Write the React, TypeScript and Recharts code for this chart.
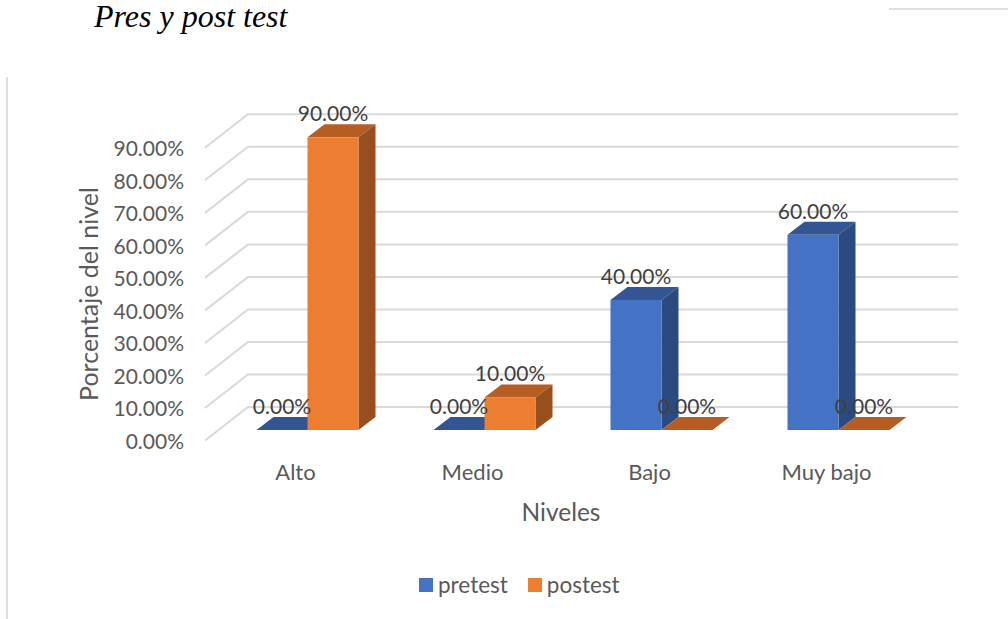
// App.tsx
import { BarChart, Bar, XAxis, YAxis, CartesianGrid, LabelList, Legend } from "recharts";

// ---- data ----
const categories = ["Alto", "Medio", "Bajo", "Muy bajo"];
const pretest = [0, 0, 40, 60];
const postest = [90, 10, 0, 0];
const yTicks = [0, 10, 20, 30, 40, 50, 60, 70, 80, 90];

const chartData = categories.map((name, i) => ({
  name,
  pretest: pretest[i],
  postest: postest[i],
}));

// ---- look ----
const FONT = "Lato, 'Open Sans', sans-serif";
const GRID = "#d9d9d9";
const AXIS_TEXT = "#595959";
const LABEL_TEXT = "#404040";
const BLUE = { front: "#4472C4", top: "#335593", side: "#2A4A80" };
const ORANGE = { front: "#ED7D31", top: "#B55D22", side: "#974F1D" };

// 3D offsets
const DEPTH_X = 17;
const DEPTH_Y = 13;
const WALL_FRONT_X = 205;
const WALL_BACK_X = 248;
const WALL_END_X = 958;
const WALL_FRONT_DY = 10.5;
const WALL_BACK_DY = -23;

const fmt = (v: number) => `${v.toFixed(2)}%`;

const GridLine = (props: any) => {
  const y = props.y1;
  return (
    <polyline
      key={props.index}
      points={`${WALL_FRONT_X},${y + WALL_FRONT_DY} ${WALL_BACK_X},${y + WALL_BACK_DY} ${WALL_END_X},${y + WALL_BACK_DY}`}
      fill="none"
      stroke={GRID}
      strokeWidth={2}
    />
  );
};

const makeBox = (c: { front: string; top: string; side: string }) => (props: any) => {
  const { x, y, width, height } = props;
  const r = x + width;
  const b = y + height;
  return (
    <g>
      <polygon
        points={`${x},${y} ${x + DEPTH_X},${y - DEPTH_Y} ${r + DEPTH_X},${y - DEPTH_Y} ${r},${y}`}
        fill={c.top}
      />
      {height > 0 && (
        <>
          <polygon
            points={`${r},${y} ${r + DEPTH_X},${y - DEPTH_Y} ${r + DEPTH_X},${b - DEPTH_Y} ${r},${b}`}
            fill={c.side}
          />
          <rect x={x} y={y} width={width} height={height} fill={c.front} />
        </>
      )}
    </g>
  );
};

const YTick = (props: any) => (
  <text
    x={184}
    y={props.y + WALL_FRONT_DY}
    textAnchor="end"
    dominantBaseline="central"
    fontSize={21}
    fontFamily={FONT}
    fill={AXIS_TEXT}
  >
    {fmt(props.payload.value)}
  </text>
);

const XTick = (props: any) => (
  <text
    x={props.x - 12}
    y={471}
    textAnchor="middle"
    dominantBaseline="central"
    fontSize={22}
    fontFamily={FONT}
    fill={AXIS_TEXT}
  >
    {props.payload.value}
  </text>
);

const LegendContent = (props: any) => (
  <div style={{ display: "flex", fontFamily: FONT, fontSize: 22.5, color: AXIS_TEXT, lineHeight: "24px" }}>
    {props.payload.map((p: any) => (
      <div key={p.value} style={{ display: "flex", alignItems: "center", marginRight: 20 }}>
        <span style={{ width: 14, height: 14, background: p.color, marginRight: 5 }} />
        {p.value}
      </div>
    ))}
  </div>
);

export default function App() {
  return (
    <div style={{ position: "absolute", left: 0, top: 0, width: 1008, height: 619, background: "#fff", overflow: "hidden" }}>
      <div
        style={{
          position: "absolute",
          left: 94,
          top: 0,
          fontFamily: "'Liberation Serif', serif",
          fontStyle: "italic",
          fontSize: 32,
          lineHeight: "32px",
          color: "#000",
          whiteSpace: "nowrap",
        }}
      >
        Pres y post test
      </div>
      <div style={{ position: "absolute", left: 889, top: 8, width: 119, height: 2, background: "#e0e0e0" }} />
      <div style={{ position: "absolute", left: 6, top: 77, width: 2, height: 542, background: "#dedede" }} />

      <BarChart
        width={1008}
        height={619}
        data={chartData}
        margin={{ top: 113.3, right: 81, bottom: 149, left: 159 }}
        barGap={0}
        barCategoryGap={37.5}
      >
        <CartesianGrid vertical={false} horizontal={GridLine} syncWithTicks />
        <XAxis
          dataKey="name"
          axisLine={false}
          tickLine={false}
          height={40}
          tick={XTick}
          interval={0}
          label={{
            content: () => (
              <text x={561} y={511} textAnchor="middle" dominantBaseline="central" fontSize={24.5} fontFamily={FONT} fill={AXIS_TEXT}>
                Niveles
              </text>
            ),
          }}
        />
        <YAxis
          domain={[0, 90]}
          ticks={yTicks}
          width={60}
          axisLine={false}
          tickLine={false}
          tick={YTick}
          interval={0}
          label={{
            content: () => (
              <text
                x={88}
                y={294}
                transform="rotate(-90 88 294)"
                textAnchor="middle"
                dominantBaseline="central"
                fontSize={25}
                fontFamily={FONT}
                fill={AXIS_TEXT}
              >
                Porcentaje del nivel
              </text>
            ),
          }}
        />
        <Legend
          verticalAlign="top"
          content={LegendContent}
          itemSorter={null}
          wrapperStyle={{ position: "absolute", left: 419, top: 573, width: 300, height: 24 }}
        />
        <Bar dataKey="pretest" fill={BLUE.front} shape={makeBox(BLUE)} isAnimationActive={false}>
          <LabelList dataKey="pretest" position="top" offset={16} formatter={fmt} fontSize={21} fontFamily={FONT} fill={LABEL_TEXT} />
        </Bar>
        <Bar dataKey="postest" fill={ORANGE.front} shape={makeBox(ORANGE)} isAnimationActive={false}>
          <LabelList dataKey="postest" position="top" offset={16} formatter={fmt} fontSize={21} fontFamily={FONT} fill={LABEL_TEXT} />
        </Bar>
      </BarChart>
    </div>
  );
}
